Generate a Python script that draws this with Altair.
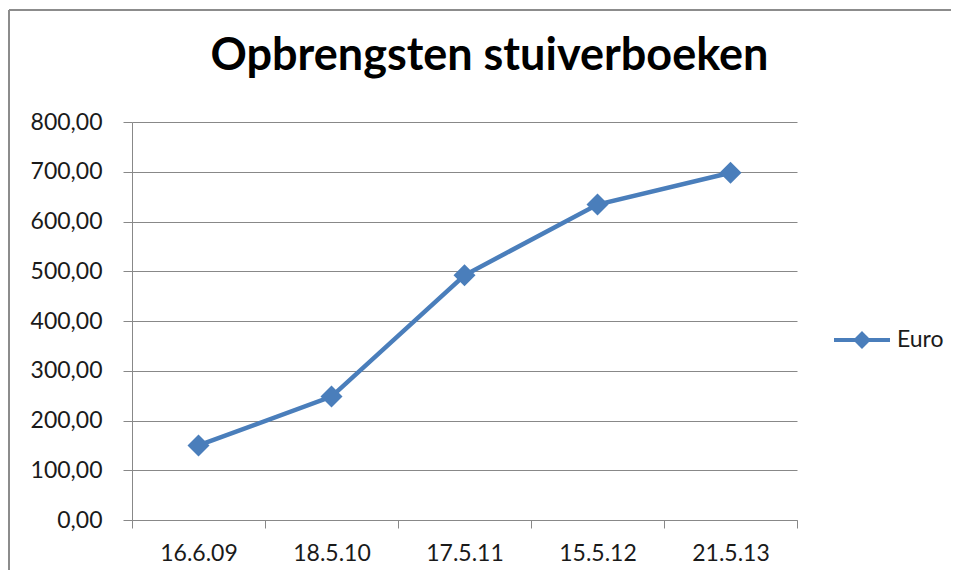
import altair as alt
import pandas as pd

dates = ["16.6.09", "18.5.10", "17.5.11", "15.5.12", "21.5.13"]
euro = [150, 248, 492, 634, 698]
series = ["Euro"] * len(dates)
y_ticks = [0, 100, 200, 300, 400, 500, 600, 700, 800]

df = pd.DataFrame({"Datum": dates, "Euro": euro, "Reeks": series})

BLUE = "#4A7EBB"
GRID = "#888888"
FONT = "Lato"

x_enc = alt.X(
    "Datum:N",
    sort=dates,
    title=None,
    scale=alt.Scale(type="band", paddingInner=0, paddingOuter=0),
    axis=alt.Axis(
        tickBand="extent",
        grid=False,
        labelAngle=0,
        tickSize=8,
        tickColor=GRID,
        domainColor=GRID,
        labelPadding=14,
    ),
)
y_enc = alt.Y(
    "Euro:Q",
    title=None,
    scale=alt.Scale(domain=[0, 800], nice=False),
    axis=alt.Axis(
        values=y_ticks,
        grid=True,
        gridColor=GRID,
        tickSize=9,
        tickColor=GRID,
        domainColor=GRID,
        labelPadding=21,
        labelExpr="replace(format(datum.value, '.2f'), '.', ',')",
    ),
)

line = alt.Chart(df).mark_line(strokeWidth=4.5, color=BLUE).encode(x=x_enc, y=y_enc)

points = alt.Chart(df).mark_point(
    shape="diamond", filled=True, size=484, opacity=1
).encode(
    x=x_enc,
    y=y_enc,
    color=alt.Color(
        "Reeks:N",
        scale=alt.Scale(domain=["Euro"], range=[BLUE]),
        legend=alt.Legend(
            title=None,
            orient="none",
            legendX=700,
            legendY=188,
            symbolType="M-1,0L1,0M0,-0.22L0.22,0L0,0.22L-0.22,0Z",
            symbolSize=3136,
            symbolStrokeWidth=4,
            symbolStrokeColor=BLUE,
            symbolFillColor=BLUE,
            labelOffset=5,
            labelFontSize=23,
            labelFont=FONT,
            labelColor="#1a1a1a",
        ),
    ),
)

one = pd.DataFrame({"a": [0]})
frame_top = alt.Chart(one).mark_rule(stroke="#8c8c8c", strokeWidth=2).encode(
    x=alt.value(-123), x2=alt.value(900), y=alt.value(-112)
)
frame_left = alt.Chart(one).mark_rule(stroke="#8c8c8c", strokeWidth=2).encode(
    x=alt.value(-123), y=alt.value(-112), y2=alt.value(600)
)

chart = alt.layer(frame_top, frame_left, line, points).properties(
    width=665,
    height=398,
    title=alt.Title(
        "Opbrengsten stuiverboeken",
        font=FONT,
        fontSize=45,
        fontWeight="bold",
        color="#000000",
        anchor="middle",
        baseline="alphabetic",
        dx=25,
        dy=126,
        offset=20,
    ),
    autosize=alt.AutoSizeParams(type="none"),
    padding={"left": 124, "top": 114, "right": 154, "bottom": 50},
).configure_view(stroke=None).configure_axis(
    labelFont=FONT, labelFontSize=23, labelColor="#1a1a1a", domainWidth=1, gridWidth=1
)

chart.save("out.html", embed_options={"renderer": "svg", "actions": False})
